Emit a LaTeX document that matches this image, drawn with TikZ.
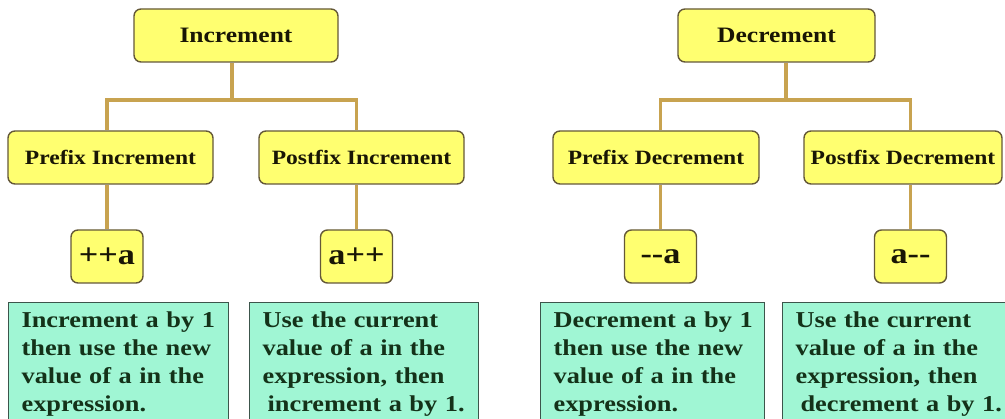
\documentclass[tikz,border=0pt]{standalone}
\usepackage{fontspec}
\setmainfont{Liberation Serif}[FakeStretch=1.16]

\definecolor{yfill}{RGB}{255,255,112}
\definecolor{yborder}{RGB}{100,88,56}
\definecolor{ytext}{RGB}{25,22,5}
\definecolor{wirec}{RGB}{200,163,80}
\definecolor{gfill}{RGB}{160,246,212}
\definecolor{gborder}{RGB}{60,85,75}
\definecolor{gtext}{RGB}{20,50,25}

\begin{document}
\begin{tikzpicture}[x=1pt,y=-1pt,
  ybox/.style={draw=yborder, line width=1.4pt, fill=yfill, rounded corners=7pt,
    minimum height=53pt, inner sep=0pt, text=ytext,
    font=\bfseries\fontsize{20.3}{24}\selectfont},
  head/.style={ybox, font=\bfseries\fontsize{22}{26}\selectfont},
  kind/.style={ybox, minimum width=205pt},
  code/.style={ybox, minimum width=72pt, font=\bfseries\fontsize{29.5}{34}\selectfont},
  note/.style={draw=gborder, line width=1.2pt, fill=gfill, anchor=north west,
    minimum height=122pt, inner xsep=13pt, inner ysep=0pt, align=left,
    text=gtext, font=\bfseries\fontsize{22.7}{28}\selectfont},
  wire/.style={draw=wirec, line width=3.5pt}]

\useasboundingbox (0,0) rectangle (1005,419);
\clip (0,0) rectangle (1005,419);

% ---- Increment tree ----
\node[head, minimum width=204pt] (inc) at (236,35.5) {Increment};
\node[kind] (preI)  at (110.5,157.5) {Prefix Increment};
\node[kind] (postI) at (361.5,157.5) {Postfix Increment};
\node[code] (pa)  at (107,256.5)   {++a};
\node[code] (ap)  at (356.5,256.5) {a++};
\node[note, text width=194pt] (g1) at (8,302)
  {\mbox{Increment a by 1}\\\mbox{then use the new}\\\mbox{value of a in the}\\\mbox{expression.}};
\node[note, text width=203pt] (g2) at (249,302)
  {\mbox{Use the current}\\\mbox{value of a in the}\\\mbox{expression, then}\\\mbox{\hspace{5pt}increment a by 1.}};

\coordinate (jI) at (232,100);
\draw[wire] (inc.south -| jI) -- (jI);
\draw[wire] (jI) -| (pa.north |- preI.north);
\draw[wire] (jI) -| (ap.north |- postI.north);
\draw[wire] (pa.north |- preI.south) -- (pa.north);
\draw[wire] (ap.north |- postI.south) -- (ap.north);

% ---- Decrement tree ----
\node[head, minimum width=197pt] (dec) at (776.5,35.5) {Decrement};
\node[kind, minimum width=206pt] (preD)  at (656,157.5) {Prefix Decrement};
\node[kind, minimum width=198pt] (postD) at (903,157.5) {Postfix Decrement};
\node[code] (ma) at (660.5,256.5) {{-}{-}a};
\node[code] (am) at (910.5,256.5) {a{-}{-}};
\node[note, text width=198pt] (g3) at (540,302)
  {\mbox{Decrement a by 1}\\\mbox{then use the new}\\\mbox{value of a in the}\\\mbox{expression.}};
\node[note, text width=214pt] (g4) at (782,302)
  {\mbox{Use the current}\\\mbox{value of a in the}\\\mbox{expression, then}\\\mbox{\hspace{5pt}decrement a by 1.}};

\coordinate (jD) at (786,100);
\draw[wire] (dec.south -| jD) -- (jD);
\draw[wire] (jD) -| (ma.north |- preD.north);
\draw[wire] (jD) -| (am.north |- postD.north);
\draw[wire] (ma.north |- preD.south) -- (ma.north);
\draw[wire] (am.north |- postD.south) -- (am.north);

\end{tikzpicture}
\end{document}
